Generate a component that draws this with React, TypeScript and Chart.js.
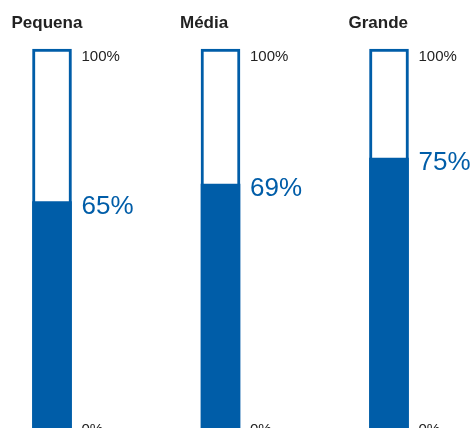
import React, { useEffect, useRef } from "react";
import { Chart, registerables } from "chart.js";

Chart.register(...registerables);

const categories = ["Pequena", "Média", "Grande"];
const values = [65, 69, 75];
const totals = [100, 100, 100];
const tickLabels = ["0%", "100%"];

const BLUE = "#005DA8";
const DARK = "#222222";
const FONT = "'Liberation Sans', Arial, Helvetica, sans-serif";

const labelsPlugin = {
  id: "thermoLabels",
  afterDatasetsDraw(chart: any) {
    const { ctx, chartArea } = chart;
    const meta = chart.getDatasetMeta(0);
    const y = chart.scales.y;
    ctx.save();
    meta.data.forEach((bar: any, i: number) => {
      const left = bar.x - bar.width / 2;
      const right = bar.x + bar.width / 2;
      // title
      ctx.font = `bold 17px ${FONT}`;
      ctx.fillStyle = DARK;
      ctx.textAlign = "left";
      ctx.textBaseline = "alphabetic";
      ctx.fillText(categories[i], left - 21, 28);
      // 100% and 0% labels
      ctx.font = `15px ${FONT}`;
      ctx.textBaseline = "middle";
      ctx.fillText(tickLabels[1], right + 10, y.getPixelForValue(100) + 8);
      ctx.fillText(tickLabels[0], right + 10, chartArea.bottom + 2);
      // value label
      ctx.font = `26px ${FONT}`;
      ctx.fillStyle = BLUE;
      ctx.fillText(values[i] + "%", right + 10, y.getPixelForValue(values[i]) + 5);
    });
    ctx.restore();
  },
};

export default function App() {
  const ref = useRef<HTMLCanvasElement>(null);
  useEffect(() => {
    if (!ref.current) return;
    const chart = new Chart(ref.current, {
      type: "bar",
      data: {
        labels: categories,
        datasets: [
          {
            label: "valor",
            data: values,
            backgroundColor: BLUE,
            borderWidth: 0,
            barThickness: 39,
            grouped: false,
            clip: false,
          } as any,
          {
            label: "total",
            data: totals,
            backgroundColor: "#ffffff",
            borderColor: BLUE,
            borderWidth: { top: 3, left: 3, right: 3, bottom: 0 },
            borderSkipped: false,
            barThickness: 39,
            grouped: false,
            clip: false,
          } as any,
        ],
      },
      options: {
        animation: false,
        responsive: true,
        maintainAspectRatio: false,
        layout: { padding: { left: 52, right: 84, top: 49, bottom: 0 } },
        plugins: { legend: { display: false }, tooltip: { enabled: false } },
        scales: {
          x: { display: false, offset: false, grid: { display: false } },
          y: { display: false, min: 13.07, max: 100, grid: { display: false } },
        },
      },
      plugins: [labelsPlugin],
    });
    return () => chart.destroy();
  }, []);
  return (
    <div style={{ position: "fixed", left: 0, top: 0, width: 473, height: 428, background: "#fff" }}>
      <canvas ref={ref} />
    </div>
  );
}
